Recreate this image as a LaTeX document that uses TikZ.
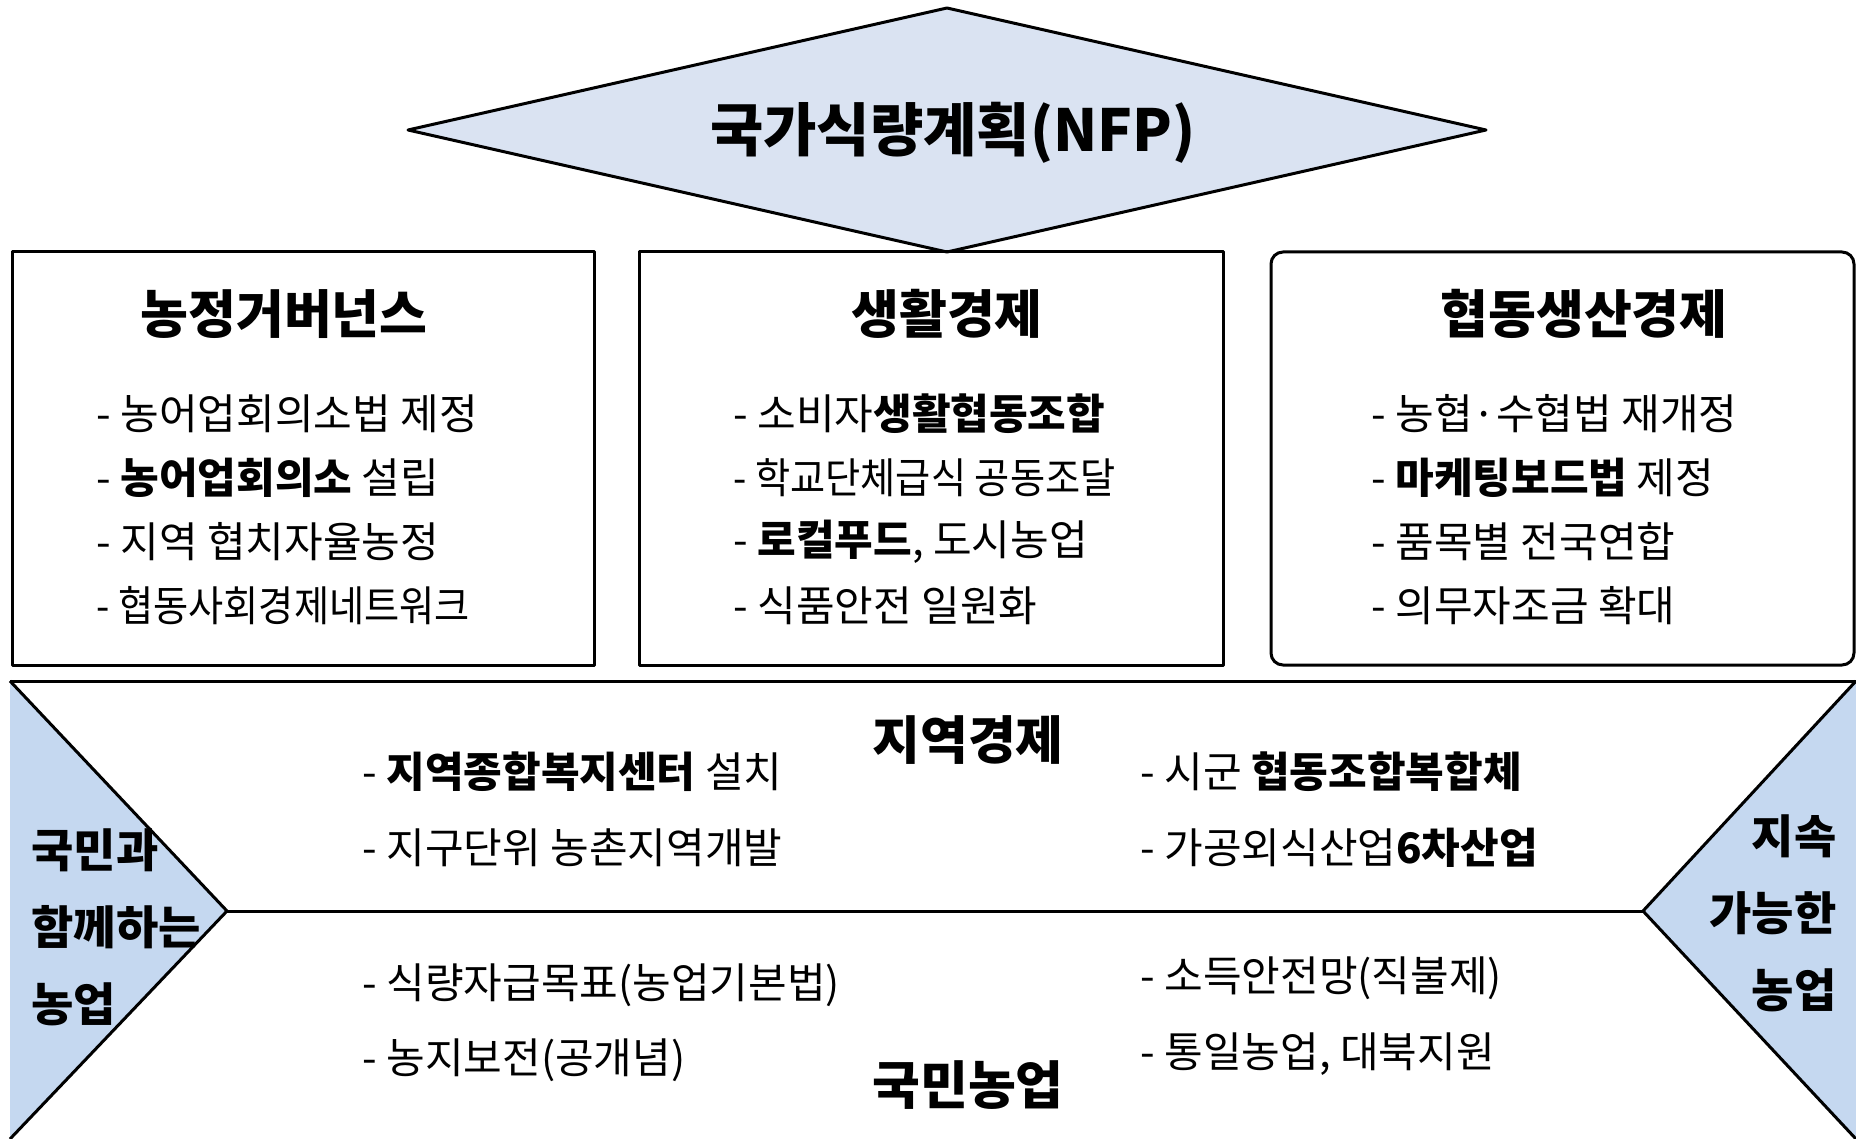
\documentclass[tikz,border=0pt]{standalone}
\usepackage{fontspec}
\setmainfont{Noto Sans CJK KR}
\usetikzlibrary{shapes.geometric}
\definecolor{diafill}{RGB}{218,227,242}
\definecolor{trifill}{RGB}{197,216,240}
\begin{document}
\begin{tikzpicture}[x=1pt,y=-1pt,
  line width=3pt, line join=round,
  boxframe/.style={draw=black, line width=3pt},
  item/.style={anchor=west, inner sep=0pt, font=\fontsize{42}{48}\selectfont},
  heading/.style={inner sep=0pt, font=\fontsize{52}{58}\selectfont\bfseries},
  sidelabel/.style={inner sep=0pt, font=\fontsize{46}{52}\selectfont\bfseries}]
\useasboundingbox (0,0) rectangle (1856,1139);
% diamond
\coordinate (dL) at (408,130);
\coordinate (dT) at (947,8);
\coordinate (dR) at (1486,130);
\coordinate (dB) at (947,252);
\draw[fill=diafill] (dL) -- (dT) -- (dR) -- (dB) -- cycle;
\node[inner sep=0pt, font=\fontsize{58}{64}\selectfont\bfseries] (nfp) at (953,133) {국가식량계획(NFP)};
% boxes
\draw[boxframe] (12,252) rectangle (594,665);
\draw[boxframe] (639,252) rectangle (1223,665);
\draw[boxframe, rounded corners=12pt] (1271,252) rectangle (1854,665);
\node[heading] (t1) at (284,314) {농정거버넌스};
\node[heading] (t2) at (947,314) {생활경제};
\node[heading] (t3) at (1584,314) {협동생산경제};
% box1 items
\node[item] (a1) at (95,414) {- 농어업회의소법 제정};
\node[item] (a2) at (95,478) {- \textbf{농어업회의소} 설립};
\node[item] (a3) at (95,542) {- 지역 협치자율농정};
\node[item] (a4) at (95,606) {\scalebox{0.91}[1]{- 협동사회경제네트워크}};
% box2 items
\node[item] (b1) at (732,414) {- 소비자\textbf{생활협동조합}};
\node[item] (b2) at (732,478) {\scalebox{0.91}[1]{- 학교단체급식 공동조달}};
\node[item] (b3) at (732,542) {- \textbf{로컬푸드}, 도시농업};
\node[item] (b4) at (732,606) {- 식품안전 일원화};
% box3 items
\node[item] (c1) at (1370,414) {- 농협·수협법 재개정};
\node[item] (c2) at (1370,478) {- \textbf{마케팅보드법} 제정};
\node[item] (c3) at (1370,542) {- 품목별 전국연합};
\node[item] (c4) at (1370,606) {- 의무자조금 확대};
% bottom band
\coordinate (lT) at (10,681);
\coordinate (lM) at (227,911);
\coordinate (lB) at (10,1139);
\coordinate (rT) at (1856,681);
\coordinate (rM) at (1643,911);
\coordinate (rB) at (1856,1139);
\fill[trifill] (lT) -- (lM) -- (lB) -- cycle;
\fill[trifill] (rT) -- (rM) -- (rB) -- cycle;
\draw (lT) -- (rT);
\draw (lT) -- (lM) -- (lB);
\draw (rT) -- (rM) -- (rB);
\draw (lM) -- (rM);
\node[heading] (h1) at (968,740) {지역경제};
\node[heading] (h2) at (968,1085) {국민농업};
\node[item] (d1) at (361,772) {- \textbf{지역종합복지센터} 설치};
\node[item] (d2) at (361,848) {- 지구단위 농촌지역개발};
\node[item] (d3) at (361,985) {- 식량자급목표(농업기본법)};
\node[item] (d4) at (361,1060) {- 농지보전(공개념)};
\node[item] (e1) at (1139,772) {- 시군 \textbf{협동조합복합체}};
\node[item] (e2) at (1139,848) {- 가공외식산업\textbf{6차산업}};
\node[item] (e3) at (1139,978) {- 소득안전망(직불제)};
\node[item] (e4) at (1139,1054) {- 통일농업, 대북지원};
\node[sidelabel, anchor=west] (l1) at (30,850) {국민과};
\node[sidelabel, anchor=west] (l2) at (30,927) {함께하는};
\node[sidelabel, anchor=west] (l3) at (30,1004) {농업};
\node[sidelabel, anchor=east] (r1) at (1838,836) {지속};
\node[sidelabel, anchor=east] (r2) at (1838,913) {가능한};
\node[sidelabel, anchor=east] (r3) at (1838,990) {농업};
\end{tikzpicture}
\end{document}
